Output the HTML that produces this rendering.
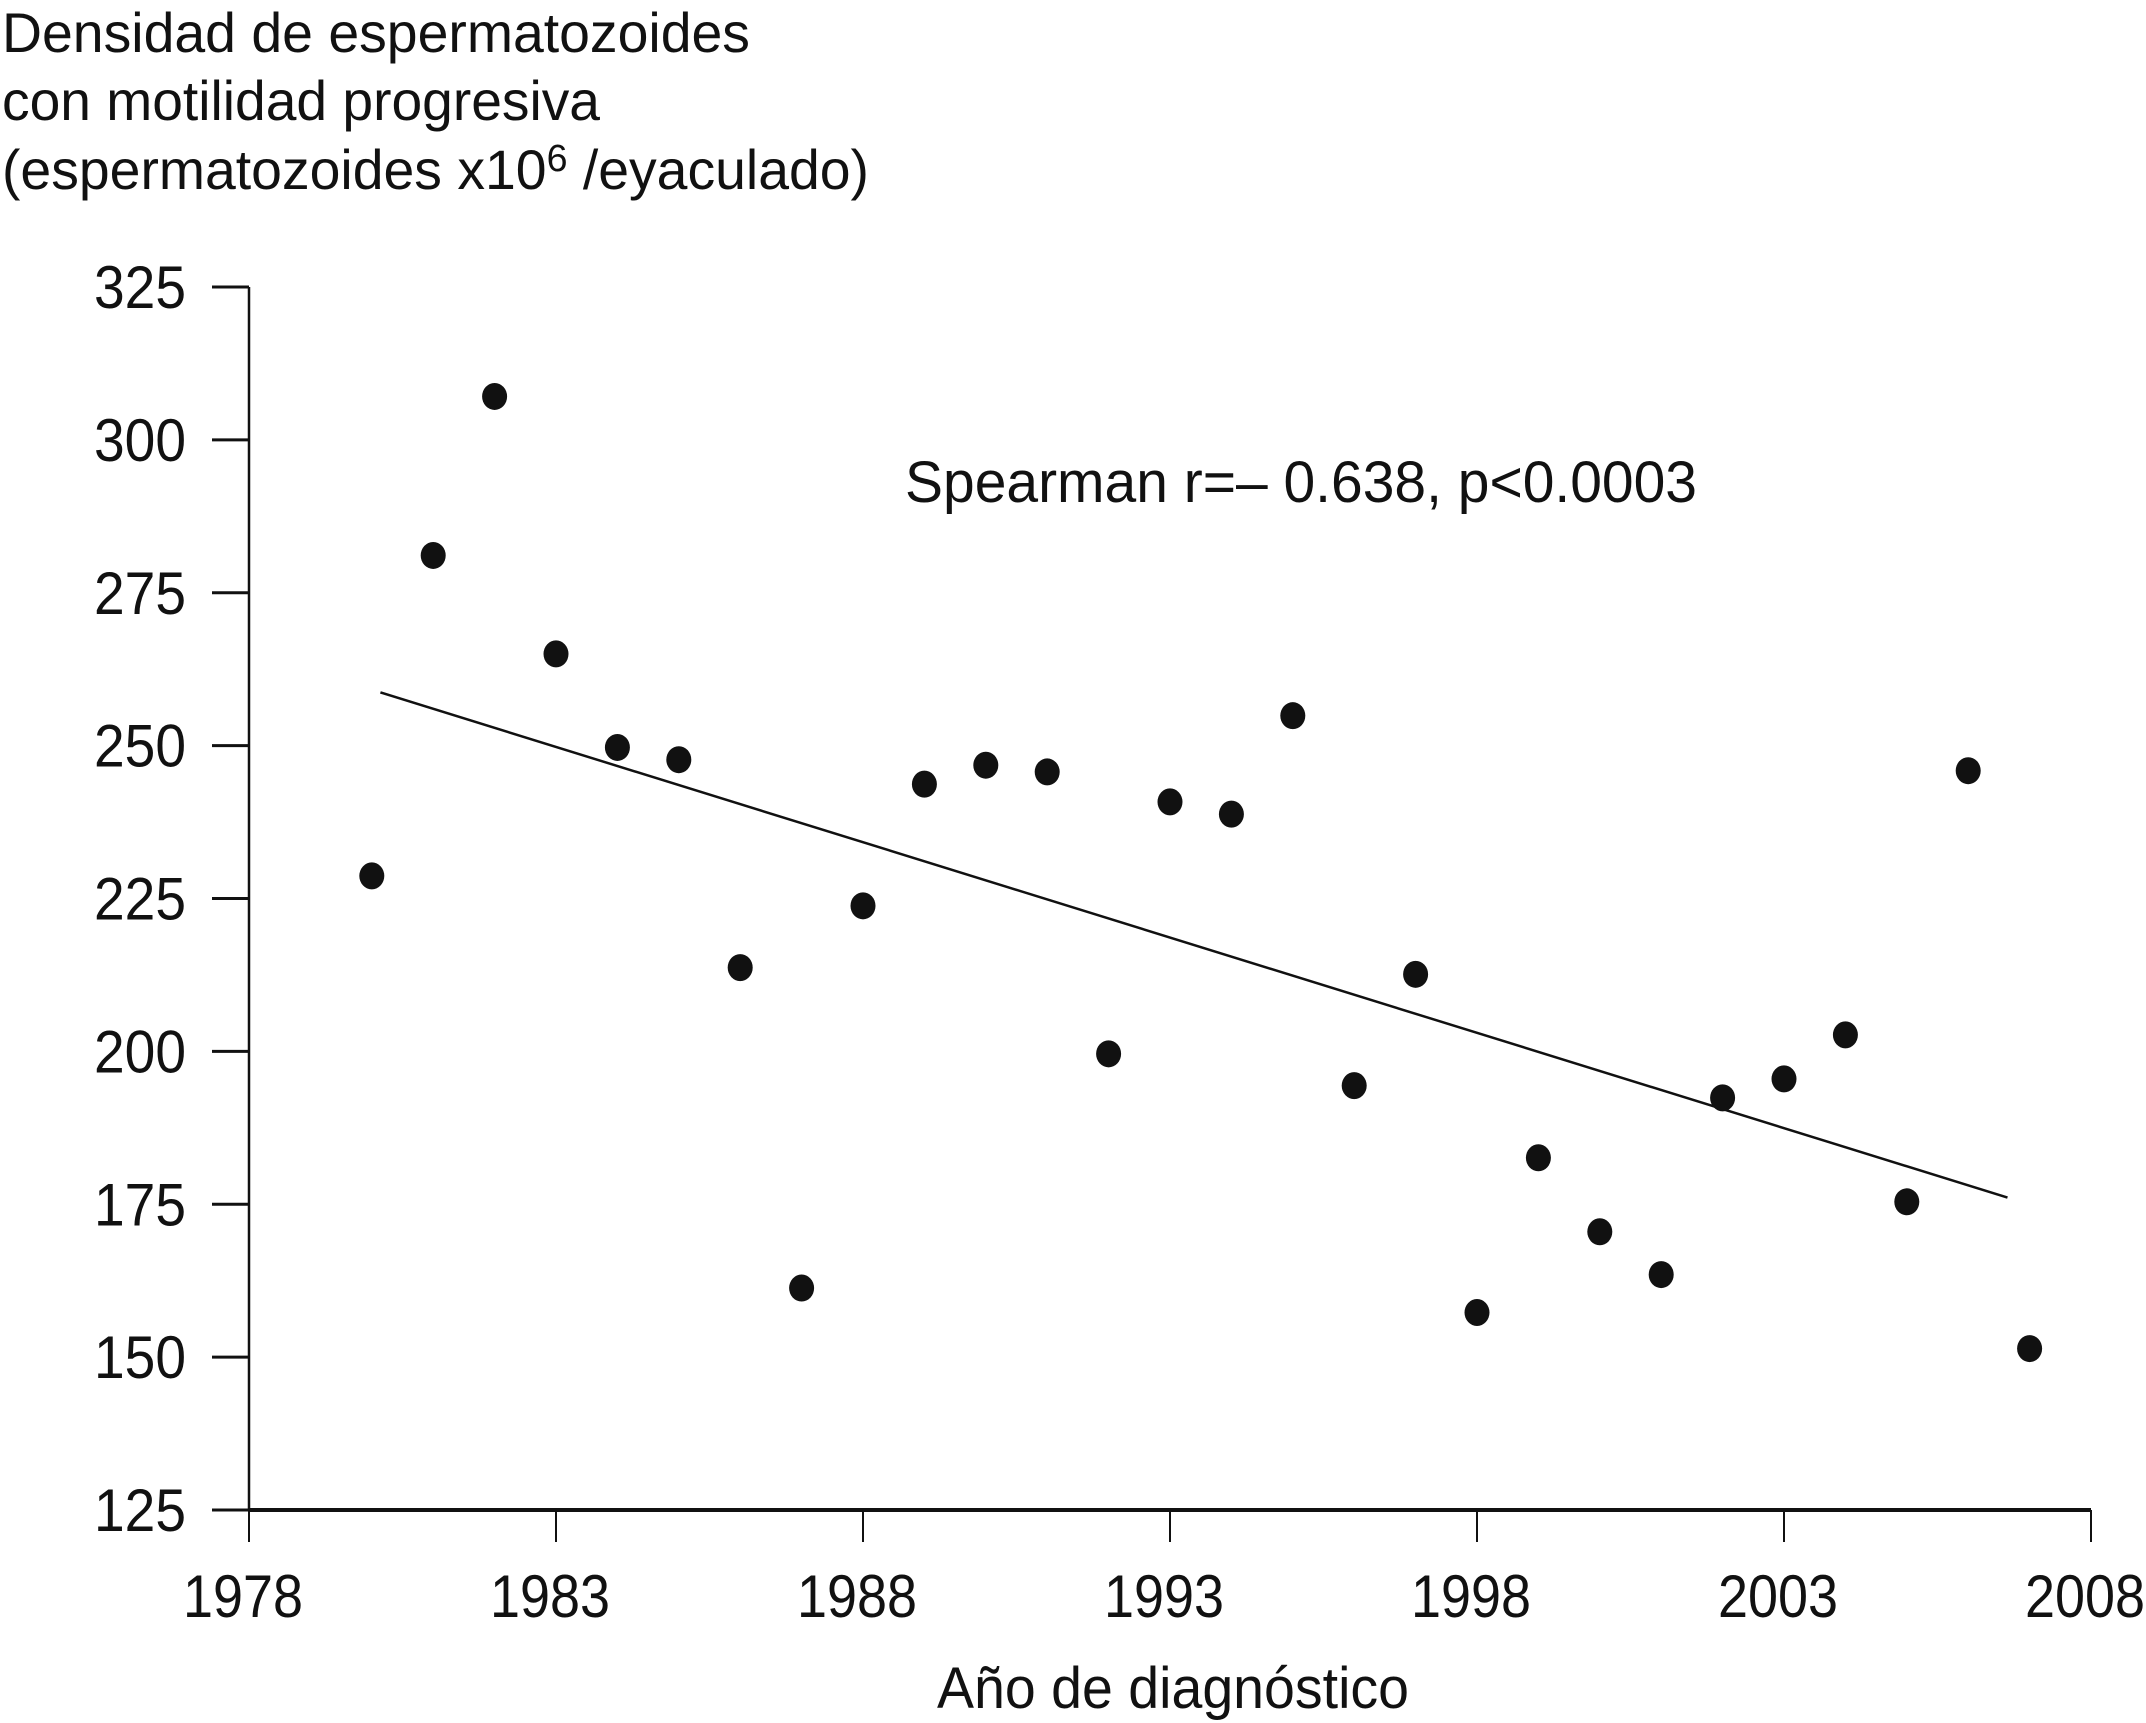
<!DOCTYPE html>
<html><head><meta charset="utf-8"><style>
html,body{margin:0;padding:0;background:#fff;}
svg{display:block;font-family:"Liberation Sans",sans-serif;}
</style></head><body>
<svg id="chart" width="2146" height="1723" viewBox="0 0 2146 1723">
<g fill="#111" font-size="56">
<text x="2" y="52" textLength="748" lengthAdjust="spacingAndGlyphs">Densidad de espermatozoides</text>
<text x="2" y="120" textLength="598" lengthAdjust="spacingAndGlyphs">con motilidad progresiva</text>
<text x="2" y="189" textLength="867" lengthAdjust="spacingAndGlyphs">(espermatozoides x10<tspan font-size="38" dy="-18">6</tspan><tspan dy="18"> /eyaculado)</tspan></text>
</g>
<g id="axes"></g>
<g id="marks"></g>
<text x="905" y="502" font-size="58" fill="#111" textLength="792" lengthAdjust="spacingAndGlyphs">Spearman r=– 0.638, p&lt;0.0003</text>
<text x="1173" y="1708" font-size="58" fill="#111" text-anchor="middle" textLength="472" lengthAdjust="spacingAndGlyphs">Año de diagnóstico</text>
</svg>
<script>
const years = [1980,1981,1982,1983,1984,1985,1986,1987,1988,1989,1990,1991,1992,1993,1994,1995,1996,1997,1998,1999,2000,2001,2002,2003,2004,2005,2006,2007];
const values = [228.7,281.1,307.1,265.0,249.7,247.7,213.7,161.3,223.8,243.7,246.8,245.7,199.6,240.8,238.8,254.9,194.4,212.6,157.3,182.6,170.5,163.5,192.4,195.5,202.7,175.4,245.9,151.4];
const xTicks = [1978,1983,1988,1993,1998,2003,2008];
const yTicks = [125,150,175,200,225,250,275,300,325];
const trendX = [1980.14,2006.64];
const trendY = [258.7,176.1];

const NS="http://www.w3.org/2000/svg";
const X0=249,X1=2091,Y0=1510,Y1=287;
const xs=v=>X0+(v-1978)/30*(X1-X0);
const ys=v=>Y0-(v-125)/200*(Y0-Y1);
function mk(tag,attrs,parent){const e=document.createElementNS(NS,tag);for(const k in attrs)e.setAttribute(k,attrs[k]);parent.appendChild(e);return e;}
const axes=document.getElementById('axes'),marks=document.getElementById('marks');

const ya=mk('line',{x1:X0,y1:Y1,x2:X0,y2:Y0,stroke:'#111','stroke-width':2.5},axes);


const xa=mk('line',{x1:X0,y1:Y0,x2:X1,y2:Y0,stroke:'#111','stroke-width':4},axes);



yTicks.forEach(t=>{
  const y=ys(t);
  const l=mk('line',{x1:X0-37,y1:y,x2:X0,y2:y,stroke:'#111','stroke-width':3},axes);
  
  
  const tx=mk('text',{x:X0-63,y:y+21,'font-size':60,fill:'#111','text-anchor':'end',textLength:92,lengthAdjust:'spacingAndGlyphs'},axes);
  tx.textContent=t;
  
  
});
xTicks.forEach(t=>{
  const x=xs(t);
  const l=mk('line',{x1:x,y1:Y0,x2:x,y2:Y0+32,stroke:'#111','stroke-width':2},axes);
  
  
  const tx=mk('text',{x:x-6,y:1617,'font-size':60,fill:'#111','text-anchor':'middle',textLength:120,lengthAdjust:'spacingAndGlyphs'},axes);
  tx.textContent=t;
  
  
});

const tl=mk('line',{x1:xs(trendX[0]),y1:ys(trendY[0]),x2:xs(trendX[1]),y2:ys(trendY[1]),stroke:'#111','stroke-width':2.5},marks);



years.forEach((yr,i)=>{
  const c=mk('ellipse',{cx:xs(yr),cy:ys(values[i]),rx:12.5,ry:13.5,fill:'#111'},marks);
  
  
});
</script>
</body></html>
